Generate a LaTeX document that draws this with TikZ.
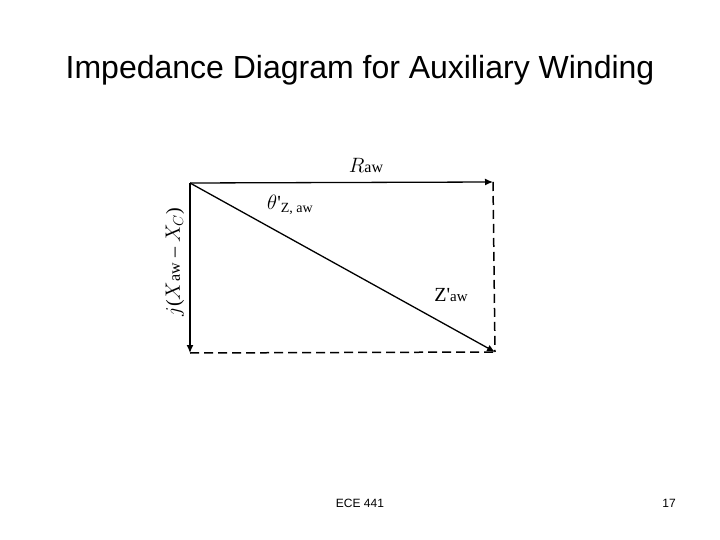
\documentclass[tikz,border=0pt]{standalone}
\usepackage{fontspec}
\setmainfont{Liberation Serif}
\newfontfamily\arial{Liberation Sans}
\usetikzlibrary{arrows.meta}
\begin{document}
\begin{tikzpicture}[x=1pt,y=-1pt,
  vec/.style={line width=1.3pt,-{Latex[length=8pt,width=7pt]}},
  dsh/.style={line width=1.5pt,dash pattern=on 9pt off 5pt},
  lbl/.style={inner sep=0pt,font=\fontsize{20}{20}\selectfont}]
\useasboundingbox (0,0) rectangle (720,540);
\node[inner sep=0pt,font=\arial\fontsize{32}{32}\selectfont] (title) at (360,70) {Impedance Diagram for Auxiliary Winding};
\node[inner sep=0pt,font=\arial\fontsize{12}{12}\selectfont] (ece) at (360,503) {ECE 441};
\node[inner sep=0pt,font=\arial\fontsize{12}{12}\selectfont] (pg) at (669,503) {17};
\coordinate (o) at (190,183);
\coordinate (r) at (493,182);
\coordinate (x) at (190,353);
\coordinate (z) at (495,352);
\draw[dsh] (r) -- (z);
\draw[dsh] (x) -- (z);
\draw[vec] (o) -- (r);
\draw[vec] (o) -- (x);
\draw[vec] (o) -- (z);
\node[lbl] (rl) at (366,165) {$R$\fontsize{16}{16}\selectfont aw};
\node[lbl] (tl) at (290,205) {$\theta$\textquotesingle\fontsize{14}{14}\selectfont\raisebox{-3pt}{Z, aw}};
\node[lbl] (zl) at (451,295) {Z\textquotesingle\fontsize{15}{15}\selectfont aw};
\node[lbl,rotate=90] (xl) at (175,262) {$j$($X$\fontsize{16}{16}\selectfont aw\fontsize{20}{20}\selectfont\ -- $X_C$)};
\end{tikzpicture}
\end{document}
